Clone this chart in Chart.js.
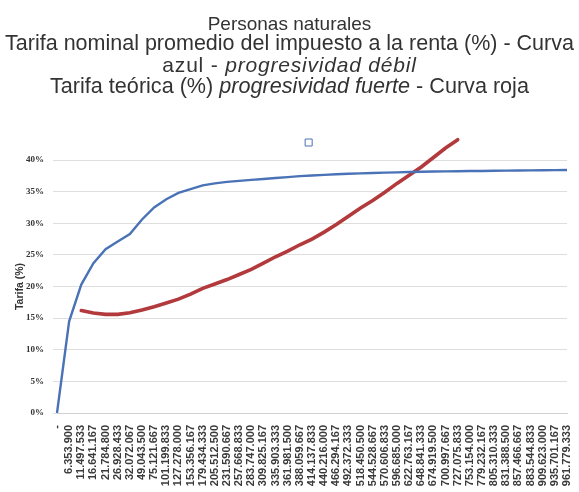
<!DOCTYPE html>
<html>
<head>
<meta charset="utf-8">
<script src="https://cdn.jsdelivr.net/npm/chart.js@4.4.1/dist/chart.umd.min.js"></script>
<style>
  html, body { margin: 0; padding: 0; background: #ffffff; }
  #wrap { position: relative; width: 579px; height: 492px; overflow: hidden; }
  .t {
    position: absolute; left: 0; width: 579px; text-align: center;
    font-family: "Liberation Sans", Arial, sans-serif; color: #333333; white-space: nowrap;
  }
  #t1 { top: 14px; font-size: 19px; line-height: 19px; }
  #t2 { top: 33px; font-size: 21.5px; line-height: 21px; }
  #t3 { top: 54px; font-size: 21px; line-height: 21px; letter-spacing: 0.8px; }
  #t4 { top: 75px; font-size: 21.6px; line-height: 21px; }
  canvas { position: absolute; left: 0; top: 0; }
</style>
</head>
<body>
<div id="wrap">
  <canvas id="c" width="579" height="492"></canvas>
  <div class="t" id="t1">Personas naturales</div>
  <div class="t" id="t2">Tarifa nominal promedio del impuesto a la renta (%) - Curva</div>
  <div class="t" id="t3">azul - <i>progresividad débil</i></div>
  <div class="t" id="t4">Tarifa teórica (%) <i>progresividad fuerte</i> - Curva roja</div>
</div>
<script>
// Income categories (x axis tick labels)
const incomeLabels = [
  "-", "6.353.900", "11.497.533", "16.641.167", "21.784.800", "26.928.433",
  "32.072.067", "49.043.500", "75.121.667", "101.199.833", "127.278.000",
  "153.356.167", "179.434.333", "205.512.500", "231.590.667", "257.668.833",
  "283.747.000", "309.825.167", "335.903.333", "361.981.500", "388.059.667",
  "414.137.833", "440.216.000", "466.294.167", "492.372.333", "518.450.500",
  "544.528.667", "570.606.833", "596.685.000", "622.763.167", "648.841.333",
  "674.919.500", "700.997.667", "727.075.833", "753.154.000", "779.232.167",
  "805.310.333", "831.388.500", "857.466.667", "883.544.833", "909.623.000",
  "935.701.167", "961.779.333"
];

// Blue curve: nominal average rate (%) - weak progressivity
const tarifaNominal = [
  0, 14.5, 20.3, 23.7, 25.9, 27.1, 28.3, 30.6, 32.5, 33.8, 34.8,
  35.4, 36.0, 36.3, 36.55, 36.7, 36.85, 37.0, 37.15, 37.3, 37.45,
  37.55, 37.65, 37.75, 37.82, 37.88, 37.94, 38.0, 38.05, 38.1, 38.14,
  38.17, 38.2, 38.22, 38.25, 38.27, 38.3, 38.32, 38.34, 38.36, 38.38,
  38.4, 38.42
];

// Red curve: theoretical rate (%) - strong progressivity
const tarifaTeorica = [
  null, null, 16.2, 15.8, 15.6, 15.6, 15.85, 16.3, 16.8, 17.4, 18.0,
  18.8, 19.7, 20.4, 21.1, 21.9, 22.7, 23.7, 24.7, 25.6, 26.6,
  27.5, 28.6, 29.8, 31.1, 32.4, 33.6, 34.9, 36.3, 37.6, 38.9,
  40.4, 41.9, 43.2, null, null, null, null, null, null, null,
  null, null
];

const BLUE = '#4a72b6';
const RED = '#b2393c';

new Chart(document.getElementById('c'), {
  type: 'line',
  data: {
    labels: incomeLabels,
    datasets: [
      { label: 'Tarifa nominal', data: tarifaNominal, borderColor: BLUE, borderWidth: 2.4,
        pointRadius: 0, tension: 0, fill: false },
      { label: 'Tarifa teórica', data: tarifaTeorica, borderColor: RED, borderWidth: 3.6,
        pointRadius: 0, tension: 0, fill: false, borderCapStyle: 'round', clip: false }
    ]
  },
  options: {
    responsive: false,
    animation: false,
    layout: { padding: { left: 10, right: 0, top: 125, bottom: 0 } },
    plugins: {
      tooltip: { enabled: false },
      title: { display: false },
      legend: {
        display: true,
        position: 'top',
        rtl: true,
        labels: {
          boxWidth: 7, boxHeight: 7, padding: 10,
          font: { size: 15 },
          generateLabels: () => [{
            text: '     ', fillStyle: 'rgba(0,0,0,0)', strokeStyle: BLUE,
            lineWidth: 1, hidden: false, datasetIndex: 0
          }]
        }
      }
    },
    scales: {
      x: {
        afterFit: (s) => { s.height = 79; s.paddingRight = 12; s.paddingLeft = 0; },
        grid: { display: false },
        border: { display: true, color: '#d0d0d0' },
        ticks: {
          autoSkip: false, maxRotation: 90, minRotation: 90, padding: 4,
          color: '#3a3a3a',
          font: { family: '"Liberation Sans", Arial, sans-serif', size: 11, weight: 'bold' }
        }
      },
      y: {
        min: 0, max: 40,
        afterFit: (s) => { s.width = 47; },
        border: { display: false },
        grid: { color: '#dedede', lineWidth: 1, tickLength: 4, drawTicks: true },
        title: {
          display: true, text: 'Tarifa (%)', color: '#333333', padding: { top: 4, bottom: 2 },
          font: { family: '"Liberation Sans", Arial, sans-serif', size: 10.5, weight: 'bold' }
        },
        ticks: {
          stepSize: 5, padding: 9, color: '#333333',
          font: { family: '"Liberation Serif", "Times New Roman", serif', size: 9, weight: 'bold' },
          callback: (v) => v + '%'
        }
      }
    }
  }
});
</script>
</body>
</html>
